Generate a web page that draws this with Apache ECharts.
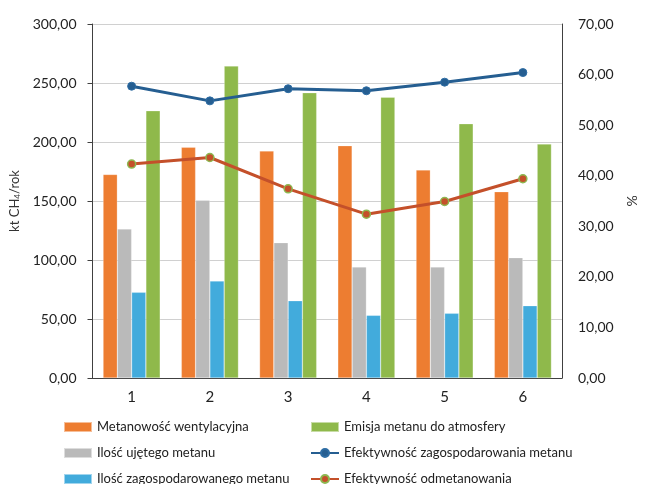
<!DOCTYPE html>
<html>
<head>
<meta charset="utf-8">
<script src="https://cdn.jsdelivr.net/npm/echarts@6/dist/echarts.min.js"></script>
<style>
  html, body { margin: 0; padding: 0; background: #fff; }
  #main { width: 647px; height: 484px; }
</style>
</head>
<body>
<div id="main"></div>
<script>
// kategorie (numery)
var categories = ['1', '2', '3', '4', '5', '6'];

// słupki, kt CH4/rok
var metanowosc = [172.5, 195.5, 192.4, 196.9, 176.3, 157.9];
var ujety = [126.3, 150.6, 114.7, 94.1, 94.1, 102.0];
var zagospodarowany = [72.6, 82.2, 65.5, 53.1, 54.8, 61.3];
var emisja = [226.5, 264.4, 241.8, 237.9, 215.5, 198.3];

// linie, %
var efZagosp = [57.7, 54.8, 57.2, 56.8, 58.5, 60.4];
var efOdmet = [42.3, 43.6, 37.4, 32.4, 34.9, 39.4];

var FONT = 'Lato';

function fmt(v) {
	return v.toFixed(2).replace('.', ',');
}

var chart = echarts.init(document.getElementById('main'));

function bar(name, data, color) {
	return {
		name: name,
		type: 'bar',
		data: data,
		barGap: '0%',
		barCategoryGap: '27%',
		itemStyle: { color: color, borderColor: 'rgba(255,255,255,0.5)', borderWidth: 0.5 },
		silent: true
	};
}

// legenda - dwie kolumny, poziomo z zawijaniem (po jednym w wierszu)
function legendCol(left, data) {
	return {
		orient: 'horizontal',
		left: left, top: 414, width: 200,
		itemWidth: 28, itemHeight: 10, itemGap: 10,
		align: 'left',
		textStyle: { fontSize: 13, color: '#222', lineHeight: 16, fontFamily: FONT },
		data: data
	};
}

var option = {
	animation: false,
	textStyle: { fontFamily: FONT },
	grid: { left: 92, right: 75, top: 24, bottom: 106 },
	xAxis: {
		type: 'category',
		data: categories,
		axisLine: { lineStyle: { color: '#404040', width: 1 } },
		axisTick: { show: false },
		axisLabel: { color: '#222', fontSize: 15, margin: 12, fontFamily: FONT }
	},
	yAxis: [{
		type: 'value',
		min: 0, max: 300, interval: 50,
		name: '{a|kt CH}{s|4}{a|/rok}',
		nameLocation: 'middle',
		nameRotate: 90,
		nameGap: 71,
		nameTextStyle: {
			rich: {
				a: { fontSize: 13, color: '#333', fontFamily: FONT },
				s: { fontSize: 8, color: '#333', fontFamily: FONT, verticalAlign: 'bottom', padding: [6, 0, 0, 0] }
			}
		},
		axisLine: { show: true, lineStyle: { color: '#404040' } },
		axisTick: { show: true, length: 5, lineStyle: { color: '#404040' } },
		splitLine: { lineStyle: { color: '#d0d0d0', width: 1 } },
		axisLabel: { formatter: fmt, color: '#222', fontSize: 14, margin: 16, fontFamily: FONT }
	}, {
		type: 'value',
		min: 0, max: 70, interval: 10,
		name: '%',
		nameLocation: 'middle',
		nameRotate: 90,
		nameGap: 63,
		nameTextStyle: { fontSize: 14, color: '#333', fontFamily: FONT },
		axisLine: { show: true, lineStyle: { color: '#404040' } },
		axisTick: { show: false },
		splitLine: { show: false },
		axisLabel: { formatter: fmt, color: '#222', fontSize: 14, margin: 16, fontFamily: FONT }
	}],
	legend: [
		legendCol(58, [
			{ name: 'Metanowość wentylacyjna', icon: 'rect' },
			{ name: 'Ilość ujętego metanu', icon: 'rect' },
			{ name: 'Ilość zagospodarowanego metanu', icon: 'rect' }
		]),
		legendCol(305, [
			{ name: 'Emisja metanu do atmosfery', icon: 'rect' },
			'Efektywność zagospodarowania metanu',
			'Efektywność odmetanowania'
		])
	],
	series: [
		bar('Metanowość wentylacyjna', metanowosc, '#ED7D31'),
		bar('Ilość ujętego metanu', ujety, '#BABABA'),
		bar('Ilość zagospodarowanego metanu', zagospodarowany, '#42ABDC'),
		bar('Emisja metanu do atmosfery', emisja, '#8FB94B'),
		{
			name: 'Efektywność zagospodarowania metanu',
			type: 'line',
			yAxisIndex: 1,
			data: efZagosp,
			symbol: 'circle',
			symbolSize: 8,
			lineStyle: { color: '#255E91', width: 3 },
			itemStyle: { color: '#255E91', borderColor: '#2E6DA4', borderWidth: 1 }
		},
		{
			name: 'Efektywność odmetanowania',
			type: 'line',
			yAxisIndex: 1,
			data: efOdmet,
			symbol: 'circle',
			symbolSize: 8,
			lineStyle: { color: '#C4502A', width: 3 },
			itemStyle: { color: '#C4502A', borderColor: '#8DB851', borderWidth: 1.5 }
		}
	]
};

chart.setOption(option);
</script>
</body>
</html>
